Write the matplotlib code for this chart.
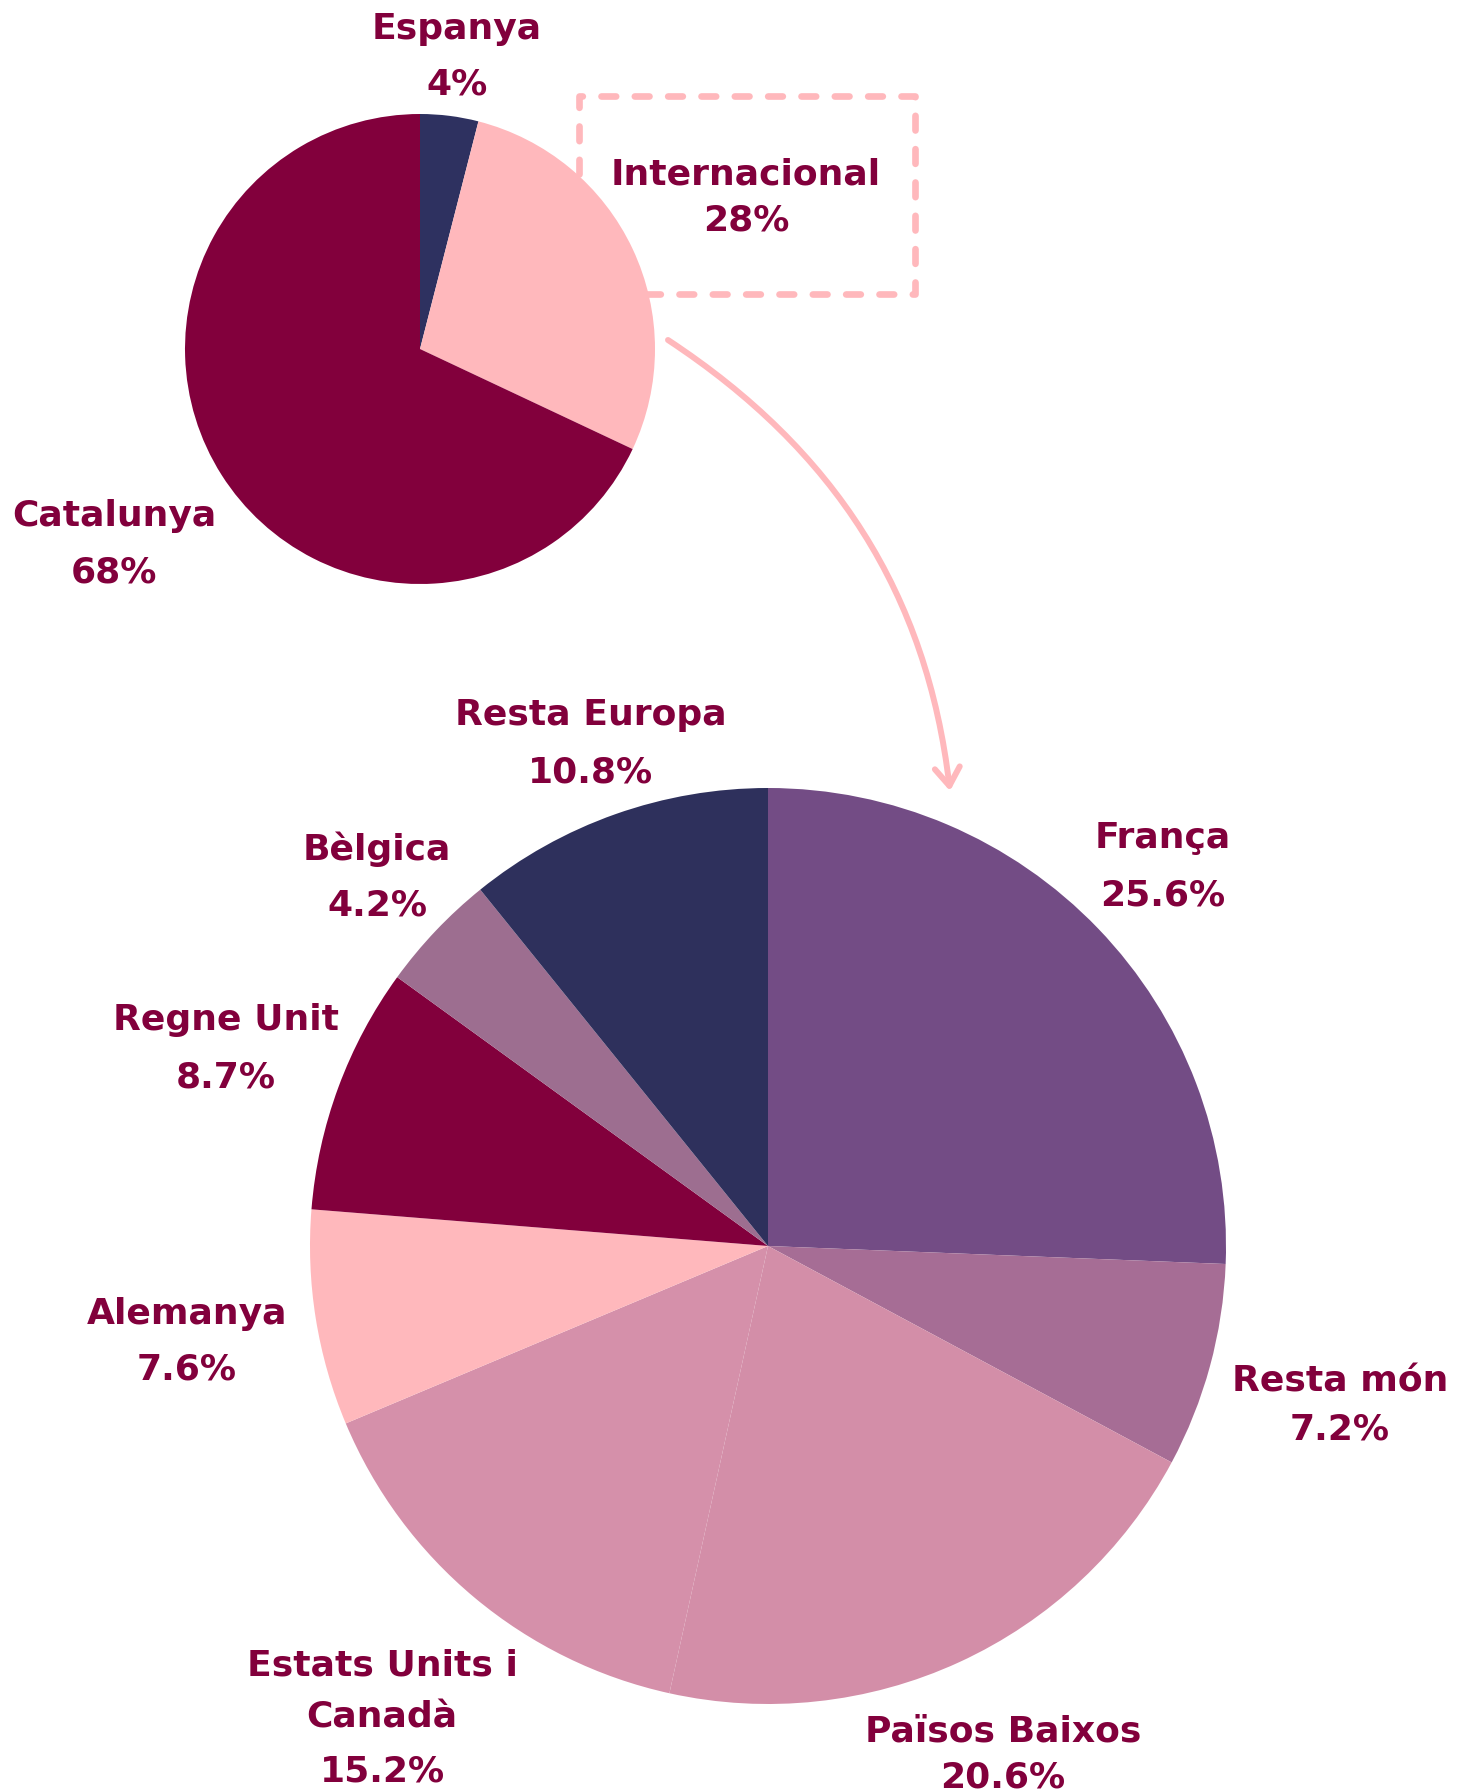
import numpy as np
import matplotlib
matplotlib.use("Agg")
import matplotlib.pyplot as plt
from matplotlib.path import Path
from matplotlib.patches import FancyArrowPatch, Rectangle

# --- data ---
top_names = ["Espanya", "Internacional", "Catalunya"]
top_vals = [4, 28, 68]
top_colors = ["#2e3160", "#ffb8bc", "#82003c"]

bot_names = ["França", "Resta món", "Països Baixos", "Estats Units i\nCanadà",
             "Alemanya", "Regne Unit", "Bèlgica", "Resta Europa"]
bot_vals = [25.6, 7.2, 20.6, 15.2, 7.6, 8.7, 4.2, 10.8]
bot_colors = ["#734c85", "#a66d95", "#d38ea8", "#d590aa",
              "#ffb8bc", "#82003c", "#9d6e90", "#2e305c"]

# label positions in pixels (x, y of first line, line step)
top_pos = [(457, 29, 55), (746, 174, 46), (114, 516, 56)]
bot_pos = [(1163, 838, 57), (1340, 1382, 48), (1003, 1731, 46), (382, 1665, 53),
           (187, 1314, 55), (226, 1020, 57), (377, 849, 56), (591, 715, 57)]

W, H = 1457, 1792
txt_col = "#82003c"
pink = "#ffb8bc"

fig = plt.figure(figsize=(W / 100, H / 100), dpi=100)
ax = fig.add_axes([0, 0, 1, 1])

# dashed box behind the small pie
box = Rectangle((579, H - 294), 336, 198, fill=False, edgecolor=pink, lw=4.8,
                linestyle=(0, (2.2, 2.8)), capstyle="round", joinstyle="round", zorder=1)
ax.add_patch(box)

ax.pie(top_vals, colors=top_colors, startangle=90, counterclock=False,
       center=(420, H - 349), radius=235, wedgeprops=dict(linewidth=0), frame=True)
ax.pie(bot_vals, colors=bot_colors, startangle=90, counterclock=False,
       center=(768, H - 1246), radius=458, wedgeprops=dict(linewidth=0), frame=True)

ax.set_xlim(0, W)
ax.set_ylim(0, H)
ax.set_aspect("equal")
ax.axis("off")


def put_label(name, pct, pos):
    x, y, step = pos
    lines = name.split("\n") + [pct]
    for i, s in enumerate(lines):
        ax.text(x, H - (y + i * step), s, ha="center", va="center", fontsize=26,
                fontweight="bold", family="DejaVu Sans", color=txt_col, zorder=5)


for n, v, p in zip(top_names, top_vals, top_pos):
    put_label(n, "%d%%" % v, p)
for n, v, p in zip(bot_names, bot_vals, bot_pos):
    put_label(n, "%.1f%%" % v, p)

# curved arrow from the small pie to the big one
verts = [(668, H - 340), (835, H - 450), (927, H - 594), (950, H - 791)]
path = Path(verts, [Path.MOVETO, Path.CURVE4, Path.CURVE4, Path.CURVE4])
arr = FancyArrowPatch(path=path, arrowstyle="->,head_length=13,head_width=9",
                      color=pink, lw=4.3, mutation_scale=1, capstyle="round",
                      joinstyle="round", zorder=3)
ax.add_patch(arr)

fig.savefig("out.png", dpi=100, facecolor="white")
